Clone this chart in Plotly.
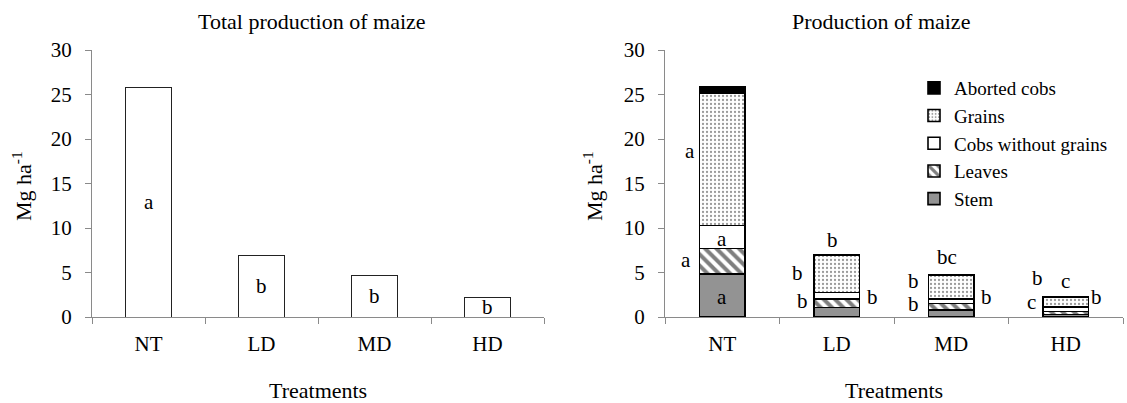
import plotly.graph_objects as go

# ---------------- data ----------------
treatments = ["NT", "LD", "MD", "HD"]
total_production = [25.8, 6.95, 4.7, 2.2]
total_letters = ["a", "b", "b", "b"]

stem = [4.85, 1.05, 0.8, 0.3]
leaves = [2.85, 0.95, 0.7, 0.3]
cobs_without_grains = [2.6, 0.75, 0.55, 0.5]
grains = [14.8, 4.2, 2.65, 1.1]
aborted_cobs = [0.75, 0.05, 0.05, 0.05]

# significance letters of the right chart
right_letter_cats = ["NT", "NT", "NT", "NT",
                     "LD", "LD", "LD", "LD",
                     "MD", "MD", "MD", "MD",
                     "HD", "HD", "HD", "HD"]
right_letter_text = ["a", "a", "a", "a",
                     "b", "b", "b", "b",
                     "bc", "b", "b", "b",
                     "c", "b", "c", "b"]
# label placement (layout, not data)
right_letter_y = [18.7, 8.8, 6.4, 2.2,
                  8.6, 4.9, 1.8, 2.3,
                  6.75, 4.1, 1.5, 2.25,
                  4.1, 4.4, 1.7, 2.25]
right_letter_dx = [-32, 0, -36, 0,
                   -4, -39, -34, 36,
                   -4, -38, -38, 35,
                   0, -28, -34, 31]

# ---------------- layout helpers ----------------
W, H = 1127, 403
ML, MR, MT, MB = 92, 4, 50, 86
PW = W - ML - MR
PH = H - MT - MB


def px(x):
    return (x - ML) / PW


def py(y):
    return (H - MB - y) / PH


FONT = "Liberation Serif, Times New Roman, serif"
AXC = "#8a8a8a"
FS = 21

fig = go.Figure()

# left chart: totals
fig.add_trace(go.Bar(
    x=treatments, y=total_production, width=0.4,
    marker=dict(color="white", line=dict(color="#222222", width=1)),
    xaxis="x", yaxis="y", showlegend=False, hoverinfo="x+y",
))

# right chart: stacked components
series = [
    ("Stem", stem, dict(color="#939393")),
    ("Leaves", leaves, dict(color="white",
                            pattern=dict(shape="\\", fgcolor="black", bgcolor="white",
                                         size=8, solidity=0.5))),
    ("Cobs without grains", cobs_without_grains, dict(color="white")),
    ("Grains", grains, dict(color="white",
                            pattern=dict(shape=".", fgcolor="#333333", bgcolor="white",
                                         size=4, solidity=0.25))),
    ("Aborted cobs", aborted_cobs, dict(color="black")),
]
for name, vals, mk in series:
    mk = dict(mk)
    mk["line"] = dict(color="black", width=1.6)
    fig.add_trace(go.Bar(
        x=treatments, y=vals, name=name, width=0.4, marker=mk,
        xaxis="x2", yaxis="y2",
    ))

annotations = []
# letters in left chart (middle of the bars)
for c, v, t in zip(treatments, total_production, total_letters):
    annotations.append(dict(x=c, y=v / 2, xref="x", yref="y", text=t, showarrow=False,
                            font=dict(family=FONT, size=FS, color="black")))
# letters in right chart
for c, t, yv, dx in zip(right_letter_cats, right_letter_text, right_letter_y, right_letter_dx):
    annotations.append(dict(x=c, y=yv, xref="x2", yref="y2", text=t, showarrow=False,
                            xshift=dx, font=dict(family=FONT, size=FS, color="black")))

# titles
for text, x, y, ang in [
    ("Total production of maize", 312, 22, 0),
    ("Production of maize", 881, 22, 0),
    ("Treatments", 318, 390, 0),
    ("Treatments", 894, 390, 0),
    ("Mg ha<sup>-1</sup>", 22, 186, -90),
    ("Mg ha<sup>-1</sup>", 593, 186, -90),
]:
    annotations.append(dict(x=px(x), y=py(y), xref="paper", yref="paper", text=text,
                            showarrow=False, textangle=ang, xanchor="center", yanchor="middle",
                            font=dict(family=FONT, size=22, color="black")))

xcommon = dict(type="category", showline=True, linecolor=AXC, linewidth=1,
               ticks="outside", tickson="boundaries", ticklen=6, tickcolor=AXC,
               showgrid=False, zeroline=False, ticklabelstandoff=8,
               tickfont=dict(family=FONT, size=FS, color="black"), fixedrange=True)
ycommon = dict(range=[0, 30], dtick=5, showline=True, linecolor=AXC, linewidth=1,
               ticks="outside", ticklen=6, tickcolor=AXC, showgrid=False, zeroline=False,
               ticklabelstandoff=9,
               tickfont=dict(family=FONT, size=FS, color="black"), fixedrange=True)

fig.update_layout(
    width=W, height=H,
    margin=dict(l=ML, r=MR, t=MT, b=MB),
    paper_bgcolor="white", plot_bgcolor="white",
    barmode="stack",
    xaxis=dict(domain=[0, px(544)], anchor="y", **xcommon),
    yaxis=dict(anchor="x", **ycommon),
    xaxis2=dict(domain=[px(665), px(1123)], anchor="y2", **xcommon),
    yaxis2=dict(anchor="x2", **ycommon),
    legend=dict(x=px(914), y=py(69), xanchor="left", yanchor="top",
                traceorder="reversed", itemwidth=30, tracegroupgap=0,
                bgcolor="rgba(0,0,0,0)",
                font=dict(family=FONT, size=19, color="black")),
    annotations=annotations,
    font=dict(family=FONT, size=FS, color="black"),
)

fig.write_html("out.html", config={"displayModeBar": False},
               post_script="document.body.style.margin='0';document.body.style.overflow='hidden';")
